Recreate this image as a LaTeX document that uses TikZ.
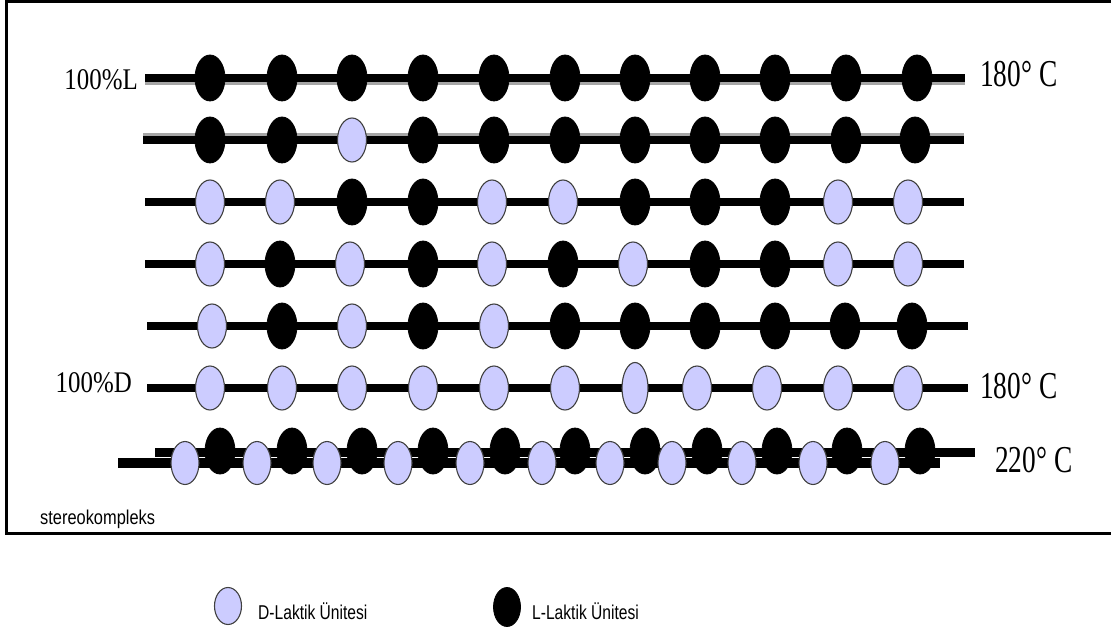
\documentclass[tikz,border=0pt]{standalone}
\usepackage{fontspec}
\setmainfont{Liberation Serif}
\setsansfont{Liberation Sans}
\usetikzlibrary{shapes.geometric}
\definecolor{dfill}{HTML}{CCCCFF}
\tikzset{
  beadD/.style={ellipse, fill=dfill, draw=black!75, line width=1.1pt, minimum width=29pt, minimum height=44pt, inner sep=0pt},
  beadL/.style={ellipse, fill=black, draw=black, line width=0.8pt, minimum width=30pt, minimum height=46pt, inner sep=0pt},
  chainline/.style={line width=8.5pt, black},
  shadowline/.style={line width=9pt, black!35},
  serlab/.style={font=\fontsize{30}{30}\selectfont, inner sep=0pt},
  templab/.style={font=\fontsize{38}{38}\selectfont, inner sep=0pt, anchor=west},
  sanslab/.style={font=\sffamily\fontsize{20}{20}\selectfont, inner sep=0pt, anchor=west},
}
\begin{document}
\begin{tikzpicture}[x=1pt,y=-1pt]
\useasboundingbox (0,0) rectangle (1111,631);
\fill[white] (0,0) rectangle (1111,631);
% frame
\draw[line width=3pt] (6,1.5) rectangle (1125,533);
% chain lines
\coordinate (r1s) at (145,78);  \coordinate (r1e) at (965,78);
\coordinate (r2s) at (143,140); \coordinate (r2e) at (964,140);
\coordinate (r3s) at (145,202); \coordinate (r3e) at (964,202);
\coordinate (r4s) at (145,264); \coordinate (r4e) at (964,264);
\coordinate (r5s) at (147,326); \coordinate (r5e) at (968,326);
\coordinate (r6s) at (147,388); \coordinate (r6e) at (968,388);
\coordinate (s1s) at (155,452); \coordinate (s1e) at (975,452);
\coordinate (s2s) at (118,463); \coordinate (s2e) at (940,463);
\draw[shadowline] ([yshift=-2.5pt]r1s) -- ([yshift=-2.5pt]r1e);
\draw[shadowline] ([yshift=2pt]r2s) -- ([yshift=2pt]r2e);
\foreach \r in {r1,r2,r3,r4,r5,r6} {\draw[chainline] (\r s) -- (\r e);}
\draw[line width=9pt] (s1s) -- (s1e);
\draw[line width=10pt] (s2s) -- (s2e);
% rows
\foreach \x/\t [count=\i] in {210/L,282/L,352/L,423/L,494/L,565/L,635/L,705/L,775/L,846/L,917/L}
  {\node[bead\t] (r1b\i) at (\x,78) {};}
\foreach \x/\t [count=\i] in {210/L,282/L,352/D,423/L,494/L,565/L,635/L,705/L,775/L,846/L,915/L}
  {\node[bead\t] (r2b\i) at (\x,140) {};}
\foreach \x/\t [count=\i] in {210/D,280/D,352/L,423/L,492/D,563/D,635/L,705/L,775/L,838/D,908/D}
  {\node[bead\t] (r3b\i) at (\x,202) {};}
\foreach \x/\t [count=\i] in {210/D,280/L,350/D,423/L,492/D,563/L,633/D,705/L,775/L,838/D,908/D}
  {\node[bead\t] (r4b\i) at (\x,264) {};}
\foreach \x/\t [count=\i] in {212/D,282/L,352/D,423/L,494/D,565/L,635/L,705/L,775/L,845/L,912/L}
  {\node[bead\t] (r5b\i) at (\x,326) {};}
\foreach \x [count=\i] in {210,282,352,423,494,565}
  {\node[beadD] (r6b\i) at (\x,388) {};}
\node[beadD, minimum width=26pt, minimum height=51pt] (r6b7) at (635,388) {};
\foreach \x [count=\i from 8] in {697,767,838,908}
  {\node[beadD] (r6b\i) at (\x,388) {};}
% stereocomplex
\foreach \x [count=\i] in {220,292,362,433,505,575,645,707,777,847,920}
  {\node[beadL] (sL\i) at (\x,451) {};}
\foreach \x [count=\i] in {185,257,327,398,470,542,610,672,742,813,885}
  {\node[beadD, minimum width=28pt, minimum height=43pt] (sD\i) at (\x,463) {};}
% labels
\node[serlab, anchor=east] (l100L) at (138,80) {\scalebox{0.83}[1]{100\%L}};
\node[serlab, anchor=east] (l100D) at (132,383) {\scalebox{0.83}[1]{100\%D}};
\node[templab] (t1) at (980,74) {\scalebox{0.72}[1]{180° C}};
\node[templab] (t2) at (980,386) {\scalebox{0.72}[1]{180° C}};
\node[templab] (t3) at (995,460) {\scalebox{0.72}[1]{220° C}};
\node[sanslab] (stk) at (40,519) {\scalebox{0.82}[1]{stereokompleks}};
% legend
\node[beadD, minimum width=27pt, minimum height=37pt] (legD) at (228,606) {};
\node[sanslab] (legDt) at (258,611) {\scalebox{0.78}[1]{D-Laktik Ünitesi}};
\node[beadL, minimum width=27pt, minimum height=39pt] (legL) at (507,607) {};
\node[sanslab] (legLt) at (532,611) {\scalebox{0.78}[1]{L-Laktik Ünitesi}};
\end{tikzpicture}
\end{document}
